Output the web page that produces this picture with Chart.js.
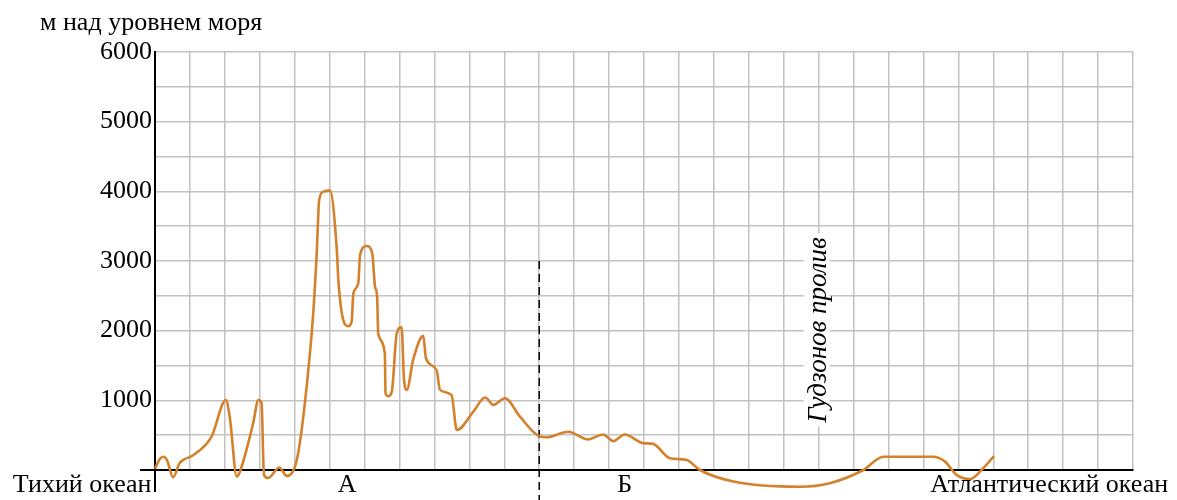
<!DOCTYPE html>
<html>
<head>
<meta charset="utf-8">
<script src="https://cdn.jsdelivr.net/npm/chart.js@4"></script>
<style>
  body { margin: 0; background: #fff; }
  #wrap { width: 1177px; height: 500px; }
</style>
</head>
<body>
<div id="wrap"><canvas id="profile"></canvas></div>
<script>
// distance along the profile, in grid cells (0..28)
const distance = [0, 0.14, 0.24, 0.34, 0.52, 0.70, 0.81, 1.10, 1.62, 2.03, 2.15, 2.34, 2.43, 2.81, 2.96, 3.05,
  3.12, 3.24, 3.56, 3.77, 4.06, 4.29, 4.53, 4.63, 4.70, 4.82, 5.01, 5.20, 5.25, 5.39, 5.53, 5.63, 5.68,
  5.82, 5.87, 6.06, 6.22, 6.30, 6.36, 6.39, 6.58, 6.60, 6.68, 6.78, 6.92, 7.06, 7.13, 7.21, 7.39, 7.68,
  7.76, 8.06, 8.16, 8.49, 8.64, 9.11, 9.45, 9.69, 10.02, 10.45, 11.02, 11.21, 11.83, 12.40, 12.83, 13.12,
  13.45, 13.98, 14.26, 14.74, 15.22, 15.60, 16.56, 18.47, 19.32, 20.28, 20.85, 22.28, 22.62, 22.95, 23.33,
  23.71, 24.02];
// height above sea level, m
const height = [20, 160, 190, 145, -105, 95, 145, 215, 480, 1005, 720, -95, -25, 670, 1005, 960,
  -70, -115, 35, -85, 145, 955, 2250, 3110, 3875, 3995, 4010, 3205, 2725, 2150, 2065, 2130, 2535,
  2680, 3085, 3215, 3110, 2630, 2485, 1960, 1675, 1100, 1060, 1125, 1960, 2050, 1290, 1150, 1580, 1925,
  1600, 1435, 1150, 1075, 575, 835, 1040, 935, 1030, 765, 480, 470, 550, 440, 510, 415,
  510, 385, 375, 170, 145, 0, -165, -240, -190, 0, 190, 190, 120, -70, -130,
  25, 200];

const yTicks = [1000, 2000, 3000, 4000, 5000, 6000];
const borderX = 11;          // dashed boundary between A and Б
const borderTop = 3000;
const borderBottom = -430;

const placeNames = ["Тихий океан", "А", "Б", "Атлантический океан"];
const placeAt = [-0.1, 5.5, 13.45, 25.6];
const placeAlign = ["right", "center", "center", "center"];
const straitName = "Гудзонов пролив";
const straitAt = [19.0, 2010];

const serif = "'Liberation Serif', 'DejaVu Serif', serif";

const profilePoints = distance.map((d, i) => ({ x: d, y: height[i] }));

const labelsPlugin = {
  id: "labels",
  afterDraw(chart) {
    const ctx = chart.ctx;
    const xs = chart.scales.x;
    const ys = chart.scales.y;
    const y0 = ys.getPixelForValue(0);
    ctx.save();
    // axis extensions
    ctx.strokeStyle = "#000";
    ctx.lineWidth = 2;
    ctx.beginPath();
    ctx.moveTo(xs.left - 15, y0);
    ctx.lineTo(xs.left, y0);
    ctx.moveTo(xs.left, y0);
    ctx.lineTo(xs.left, y0 + 22);
    ctx.stroke();

    ctx.fillStyle = "#000";
    ctx.font = "26px " + serif;
    ctx.textBaseline = "alphabetic";
    ctx.textAlign = "left";
    ctx.fillText("м над уровнем моря", 40, 30);

    placeNames.forEach((name, i) => {
      ctx.textAlign = placeAlign[i];
      ctx.fillText(name, xs.getPixelForValue(placeAt[i]), y0 + 22);
    });

    // strait label, rotated
    ctx.font = "italic 27px " + serif;
    const w = ctx.measureText(straitName).width;
    const sx = xs.getPixelForValue(straitAt[0]);
    const sy = ys.getPixelForValue(straitAt[1]);
    ctx.translate(sx, sy);
    ctx.rotate(-Math.PI / 2);
    ctx.fillStyle = "#fff";
    ctx.fillRect(-w / 2 - 4, -15, w + 8, 26);
    ctx.fillStyle = "#000";
    ctx.textAlign = "center";
    ctx.textBaseline = "middle";
    ctx.fillText(straitName, 0, 0);
    ctx.restore();
  }
};

new Chart(document.getElementById("profile"), {
  type: "line",
  data: {
    datasets: [
      {
        data: profilePoints,
        borderColor: "#d4812c",
        borderWidth: 2.6,
        pointRadius: 0,
        cubicInterpolationMode: "monotone",
        clip: false,
      },
      {
        data: [{ x: borderX, y: borderTop }, { x: borderX, y: borderBottom }],
        borderColor: "#000",
        borderWidth: 1.5,
        borderDash: [8, 5],
        pointRadius: 0,
        clip: false,
      },
    ],
  },
  options: {
    responsive: true,
    maintainAspectRatio: false,
    animation: false,
    layout: { padding: { left: 0, top: 52, right: 44, bottom: 30 } },
    plugins: {
      legend: { display: false },
      tooltip: { enabled: false },
    },
    scales: {
      x: {
        type: "linear",
        min: 0,
        max: 28,
        ticks: { stepSize: 1, display: false },
        grid: { color: "#c2c2c2", lineWidth: 1.5, drawTicks: false },
        border: { color: "#000", width: 2 },
        afterFit: (scale) => { scale.height = 0; },
      },
      y: {
        min: 0,
        max: 6000,
        ticks: {
          stepSize: 500,
          padding: 3,
          color: "#000",
          font: { family: serif, size: 26 },
          callback: (v) => (yTicks.includes(v) ? v : ""),
        },
        grid: { color: "#c2c2c2", lineWidth: 1.5, drawTicks: false },
        border: { color: "#000", width: 2 },
        afterFit: (scale) => { scale.width = 155; },
      },
    },
  },
  plugins: [labelsPlugin],
});
</script>
</body>
</html>
